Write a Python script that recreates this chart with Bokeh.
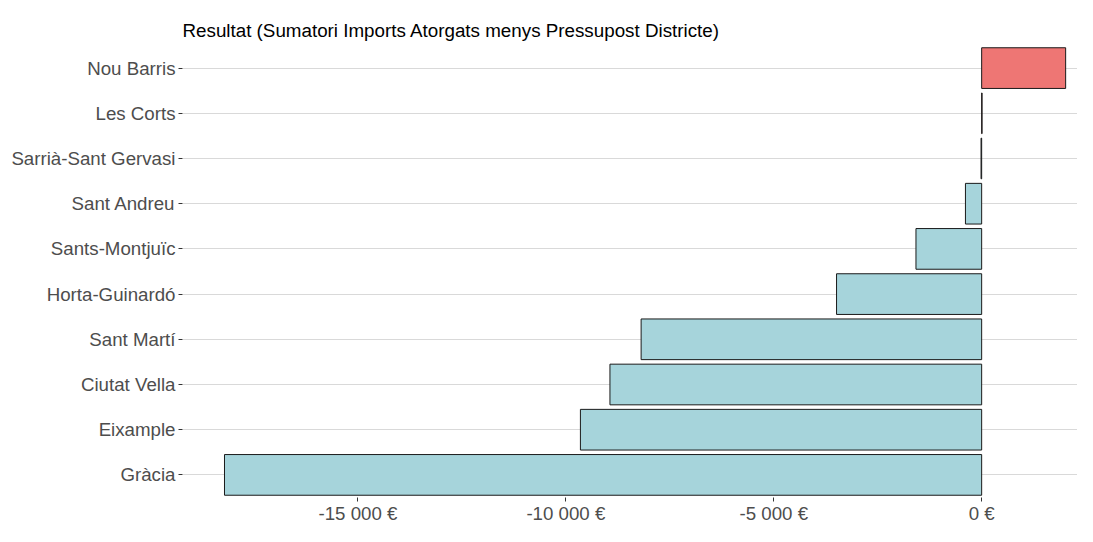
from bokeh.plotting import figure
from bokeh.models import FixedTicker, CustomJSTickFormatter, ColumnDataSource
from bokeh.embed import file_html
from bokeh.resources import INLINE

districtes = ["Gràcia", "Eixample", "Ciutat Vella", "Sant Martí", "Horta-Guinardó",
              "Sants-Montjuïc", "Sant Andreu", "Sarrià-Sant Gervasi", "Les Corts", "Nou Barris"]
resultat = [-18210, -9650, -8940, -8190, -3490, -1580, -390, -15, 10, 2020]
tick_vals = [-15000, -10000, -5000, 0]

colors = ["#EE7674" if v > 0 else "#A6D4DB" for v in resultat]
src = ColumnDataSource(dict(d=districtes, v=resultat, c=colors))

p = figure(width=1077, height=526, y_range=districtes, x_range=(-19220, 2305),
           output_backend="svg", toolbar_location=None,
           title="Resultat (Sumatori Imports Atorgats menys Pressupost Districte)")
p.hbar(y="d", left=0, right="v", height=0.9, fill_color="c", line_color="#1a1a1a",
       line_width=1, source=src)

p.title.text_font = "Liberation Sans"
p.title.text_font_size = "18.8px"
p.title.text_font_style = "normal"
p.title.text_color = "#000000"
p.title.align = "left"
p.title.offset = 0
p.title.standoff = 10
p.title.text_line_height = 1.8

p.outline_line_color = None
p.background_fill_color = "white"
p.border_fill_color = "white"
p.min_border_left = 182
p.min_border_right = 0
p.min_border_top = 45
p.min_border_bottom = 0

p.xgrid.grid_line_color = None
p.ygrid.grid_line_color = "#D9D9D9"
p.ygrid.grid_line_width = 1

for ax in (p.xaxis, p.yaxis):
    ax.axis_line_color = None
    ax.major_tick_in = 0
    ax.major_tick_out = 4
    ax.major_tick_line_color = "#333333"
    ax.minor_tick_line_color = None
    ax.major_label_text_font = "Liberation Sans"
    ax.major_label_text_font_size = "18.7px"
    ax.major_label_text_color = "#4D4D4D"
p.yaxis.major_label_standoff = 3
p.xaxis.major_label_standoff = 1

p.xaxis.ticker = FixedTicker(ticks=tick_vals)
p.xaxis.formatter = CustomJSTickFormatter(code="""
var s = Math.abs(tick).toFixed(0).replace(/\\B(?=(\\d{3})+(?!\\d))/g, ' ');
return (tick < 0 ? '-' : '') + s + ' €';
""")

open("out.html", "w").write(file_html(p, INLINE))
